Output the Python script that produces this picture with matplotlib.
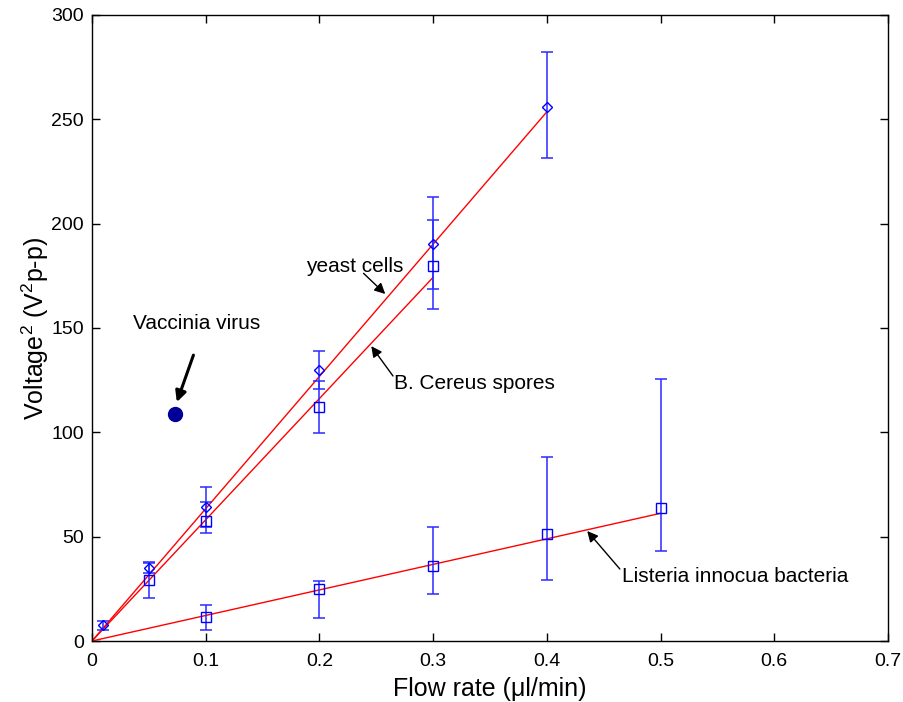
import matplotlib
matplotlib.use("Agg")
import matplotlib.pyplot as plt
import numpy as np

plt.rcParams['font.family'] = ['Liberation Sans', 'DejaVu Sans']
plt.rcParams['mathtext.fontset'] = 'custom'
plt.rcParams['mathtext.rm'] = 'Liberation Sans'
plt.rcParams['mathtext.it'] = 'Liberation Sans'

# ---- data ----
yeast_x = [0.01, 0.05, 0.1, 0.2, 0.3, 0.4]
yeast_y = [7.5, 34.8, 64.4, 129.8, 190.2, 256.0]
yeast_lo = [5.5, 32.4, 54.8, 120.9, 168.5, 231.3]
yeast_hi = [9.5, 37.5, 73.6, 139.1, 212.9, 282.4]

spores_x = [0.05, 0.1, 0.2, 0.3]
spores_y = [29.2, 57.7, 112.3, 179.7]
spores_lo = [20.7, 51.6, 99.8, 158.9]
spores_hi = [37.7, 66.8, 124.8, 201.7]

listeria_x = [0.1, 0.2, 0.3, 0.4, 0.5]
listeria_y = [11.3, 24.9, 35.9, 51.3, 63.6]
listeria_lo = [5.3, 11.2, 22.7, 29.1, 43.3]
listeria_hi = [17.2, 28.9, 54.5, 88.3, 125.4]

fit_yeast_x = [0.0, 0.4]
fit_yeast_y = [0.0, 253.6]
fit_spores_x = [0.0, 0.3]
fit_spores_y = [0.0, 174.3]
fit_listeria_x = [0.0, 0.5]
fit_listeria_y = [0.0, 61.2]

vaccinia_x = [0.073]
vaccinia_y = [108.6]

x_ticks = [0, 0.1, 0.2, 0.3, 0.4, 0.5, 0.6, 0.7]
x_ticklabels = ['0', '0.1', '0.2', '0.3', '0.4', '0.5', '0.6', '0.7']
y_ticks = [0, 50, 100, 150, 200, 250, 300]

# ---- figure ----
fig = plt.figure(figsize=(9.04, 7.02), dpi=100)
ax = fig.add_axes([92/904, 1-641/702, (888-92)/904, (641-15)/702])

ax.plot(fit_yeast_x, fit_yeast_y, color='#ff0000', lw=1.0, zorder=2)
ax.plot(fit_spores_x, fit_spores_y, color='#ff0000', lw=1.0, zorder=2)
ax.plot(fit_listeria_x, fit_listeria_y, color='#ff0000', lw=1.0, zorder=2)

def errs(y, lo, hi):
    y = np.array(y); lo = np.array(lo); hi = np.array(hi)
    return np.vstack([y - lo, hi - y])

eb_kw = dict(fmt='none', ecolor='#2b2bff', elinewidth=1.3, capsize=4.5,
             capthick=1.3, alpha=0.85, zorder=3)
ax.errorbar(yeast_x, yeast_y, yerr=errs(yeast_y, yeast_lo, yeast_hi), **eb_kw)
ax.errorbar(spores_x, spores_y, yerr=errs(spores_y, spores_lo, spores_hi), **eb_kw)
ax.errorbar(listeria_x, listeria_y, yerr=errs(listeria_y, listeria_lo, listeria_hi), **eb_kw)

ax.plot(yeast_x, yeast_y, linestyle='none', marker='D', markersize=5.5,
        markerfacecolor='none', markeredgecolor='#0000ff', markeredgewidth=1.0, zorder=4)
ax.plot(spores_x, spores_y, linestyle='none', marker='s', markersize=6.8,
        markerfacecolor='none', markeredgecolor='#0000ff', markeredgewidth=1.0, zorder=4)
ax.plot(listeria_x, listeria_y, linestyle='none', marker='s', markersize=6.8,
        markerfacecolor='none', markeredgecolor='#0000ff', markeredgewidth=1.0, zorder=4)

ax.plot(vaccinia_x, vaccinia_y, linestyle='none', marker='o', markersize=10,
        markerfacecolor='#000099', markeredgecolor='#000099', zorder=4)

# annotations
fs_ann = 15
ax.text(0.1884, 179.3, 'yeast cells', fontsize=fs_ann, ha='left', va='center')
ax.annotate('', xy=(0.2579, 166.3), xytext=(0.2388, 176.2),
            arrowprops=dict(arrowstyle='-|>', color='k', lw=1.0,
                            mutation_scale=16, shrinkA=0, shrinkB=0))
ax.text(0.2652, 123.5, 'B. Cereus spores', fontsize=fs_ann, ha='left', va='center')
ax.annotate('', xy=(0.2456, 141.3), xytext=(0.2647, 127.0),
            arrowprops=dict(arrowstyle='-|>', color='k', lw=1.0,
                            mutation_scale=16, shrinkA=0, shrinkB=0))
ax.text(0.4657, 30.7, 'Listeria innocua bacteria', fontsize=fs_ann, ha='left', va='center')
ax.annotate('', xy=(0.4355, 52.7), xytext=(0.4642, 34.5),
            arrowprops=dict(arrowstyle='-|>', color='k', lw=1.0,
                            mutation_scale=16, shrinkA=0, shrinkB=0))
ax.text(0.0361, 152.2, 'Vaccinia virus', fontsize=fs_ann, ha='left', va='center')
ax.annotate('', xy=(0.0746, 114.5), xytext=(0.0892, 137.0),
            arrowprops=dict(arrowstyle='-|>', color='k', lw=2.2,
                            mutation_scale=16, shrinkA=0, shrinkB=0))

ax.set_xlim(0, 0.7)
ax.set_ylim(0, 300)
ax.set_xticks(x_ticks)
ax.set_xticklabels(x_ticklabels)
ax.set_yticks(y_ticks)
ax.tick_params(direction='in', length=6, width=1, top=True, right=True,
               labelsize=14)
ax.tick_params(axis='x', pad=9)
ax.tick_params(axis='y', pad=6)
for s in ax.spines.values():
    s.set_linewidth(1.0)

ax.set_xlabel('Flow rate (\u03bcl/min)', fontsize=18, labelpad=5)
ax.set_ylabel('Voltage$^2$ (V$^2$p-p)', fontsize=18, labelpad=0)

fig.savefig('out.png', dpi=100)
